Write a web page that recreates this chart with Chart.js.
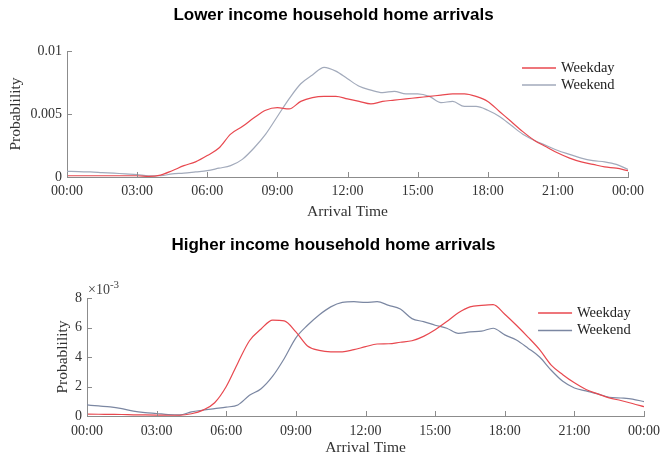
<!DOCTYPE html>
<html>
<head>
<meta charset="utf-8">
<script src="https://cdn.jsdelivr.net/npm/chart.js@4.4.0/dist/chart.umd.min.js"></script>
<style>
  body { margin: 0; background: #fff; }
  #wrap { position: relative; width: 667px; height: 457px; }
  .title {
    position: absolute; left: 0; width: 667px; text-align: center;
    font: bold 17px "Liberation Sans", Arial, sans-serif; color: #000; z-index: 2;
  }
  canvas { position: absolute; left: 0; }
</style>
</head>
<body>
<div id="wrap">
  <div class="title" style="top:5px">Lower income household home arrivals</div>
  <div class="title" style="top:235px">Higher income household home arrivals</div>
  <canvas id="lowChart" style="top:0" width="667" height="228"></canvas>
  <canvas id="highChart" style="top:228px" width="667" height="229"></canvas>
</div>
<script>
// half-hour steps, 00:00 to 24:00
const hours = [0, 0.5, 1, 1.5, 2, 2.5, 3, 3.5, 4, 4.5, 5, 5.5, 6, 6.5, 7, 7.5, 8, 8.5, 9, 9.5,
  10, 10.5, 11, 11.5, 12, 12.5, 13, 13.5, 14, 14.5, 15, 15.5, 16, 16.5, 17, 17.5, 18, 18.5, 19, 19.5,
  20, 20.5, 21, 21.5, 22, 22.5, 23, 23.5, 24];

const timeLabels = ['00:00', '03:00', '06:00', '09:00', '12:00', '15:00', '18:00', '21:00', '00:00'];
const seriesNames = ['Weekday', 'Weekend'];

// lower income
const lowWeekday = [0.0001, 0.0001, 0.0001, 0.0001, 0.0001, 0.0001, 0.0001, 0.00005, 0.00015, 0.0005,
  0.0009, 0.0012, 0.0017, 0.0023, 0.0034, 0.0040, 0.0047, 0.0053, 0.0055, 0.0054,
  0.0060, 0.0063, 0.0064, 0.0064, 0.0062, 0.0060, 0.0058, 0.0060, 0.0061, 0.0062,
  0.0063, 0.0064, 0.0065, 0.0066, 0.0066, 0.0064, 0.0060, 0.0052, 0.0044, 0.0036,
  0.0029, 0.0024, 0.0019, 0.0015, 0.0012, 0.0010, 0.0008, 0.0007, 0.0005];
const lowWeekend = [0.00045, 0.00042, 0.0004, 0.00035, 0.0003, 0.00025, 0.0002, 0.0001, 0.0001, 0.00025,
  0.0003, 0.0004, 0.0005, 0.0007, 0.0009, 0.0014, 0.0023, 0.0034, 0.0048, 0.0062,
  0.0074, 0.0081, 0.0087, 0.0084, 0.0078, 0.0072, 0.0069, 0.0067, 0.0068, 0.0066,
  0.0066, 0.0064, 0.0059, 0.0060, 0.0056, 0.0056, 0.0053, 0.0048, 0.0041, 0.0034,
  0.0029, 0.0025, 0.0021, 0.0018, 0.0015, 0.0013, 0.0012, 0.0010, 0.0006];
const lowYTicks = ['0', '0.005', '0.01'];

// higher income (x 10^-3)
const highWeekday = [0.13, 0.12, 0.11, 0.1, 0.08, 0.07, 0.06, 0.05, 0.05, 0.15,
  0.4, 0.9, 2.0, 3.6, 5.1, 5.9, 6.5, 6.45, 5.7, 4.75,
  4.45, 4.35, 4.35, 4.5, 4.7, 4.88, 4.9, 5.0, 5.1, 5.4,
  5.85, 6.4, 7.0, 7.4, 7.5, 7.55, 6.9, 6.15, 5.35, 4.5,
  3.45, 2.8, 2.25, 1.8, 1.5, 1.23, 1.05, 0.85, 0.63];
const highWeekend = [0.75, 0.68, 0.62, 0.5, 0.33, 0.23, 0.17, 0.1, 0.07, 0.28,
  0.4, 0.5, 0.6, 0.75, 1.4, 1.85, 2.7, 3.9, 5.3, 6.15,
  6.85, 7.4, 7.7, 7.75, 7.7, 7.75, 7.5, 7.25, 6.6, 6.4,
  6.15, 5.95, 5.6, 5.7, 5.75, 5.95, 5.5, 5.15, 4.6, 4.0,
  3.1, 2.35, 1.9, 1.7, 1.5, 1.27, 1.22, 1.15, 0.97];
const highYTicks = ['0', '2', '4', '6', '8'];

const serif = '"Liberation Serif", "Times New Roman", serif';
const axisColor = '#8c8c8c';
const redLine = '#e8484f';

const toPoints = vals => hours.map((h, i) => ({ x: h, y: vals[i] }));

// small inward tick marks, a legend inside the plot, and the exponent label
const extrasPlugin = {
  id: 'extras',
  afterDraw(chart, args, opts) {
    const ctx = chart.ctx;
    const { left, right, top, bottom } = chart.chartArea;
    const xs = chart.scales.x, ys = chart.scales.y;
    ctx.save();
    ctx.strokeStyle = axisColor;
    ctx.lineWidth = 1;
    ctx.beginPath();
    xs.ticks.forEach(t => {
      const px = Math.round(xs.getPixelForValue(t.value)) + 0.5;
      ctx.moveTo(px, bottom); ctx.lineTo(px, bottom - 5);
    });
    ys.ticks.forEach(t => {
      const py = Math.round(ys.getPixelForValue(t.value)) + 0.5;
      ctx.moveTo(left, py); ctx.lineTo(left + 5, py);
    });
    ctx.stroke();

    // legend
    ctx.font = '14.5px ' + serif;
    ctx.textBaseline = 'middle';
    ctx.textAlign = 'left';
    chart.data.datasets.forEach((ds, i) => {
      const y = top + opts.legendY + i * opts.legendGap;
      const x0 = right - opts.legendX;
      ctx.strokeStyle = ds.borderColor;
      ctx.lineWidth = 1.3;
      ctx.beginPath();
      ctx.moveTo(x0, y); ctx.lineTo(x0 + 34, y);
      ctx.stroke();
      ctx.fillStyle = '#222';
      ctx.fillText(ds.label, x0 + 39, y);
    });

    if (opts.exponent) {
      ctx.fillStyle = '#444';
      ctx.textBaseline = 'alphabetic';
      ctx.font = '14px ' + serif;
      ctx.fillText('\u00d710', left + 1, top - 4);
      const w = ctx.measureText('\u00d710').width;
      ctx.font = '11px ' + serif;
      ctx.fillText('-3', left + 1 + w, top - 10);
    }
    ctx.restore();
  }
};

function makeChart(id, weekday, weekend, yMax, yStep, yTicks, weekendColor, geo) {
  return new Chart(document.getElementById(id), {
    type: 'line',
    data: {
      datasets: [
        { label: seriesNames[0], data: toPoints(weekday), borderColor: redLine },
        { label: seriesNames[1], data: toPoints(weekend), borderColor: weekendColor }
      ]
    },
    options: {
      responsive: false,
      animation: false,
      layout: { padding: { left: geo.padLeft, right: geo.padRight, top: geo.padTop, bottom: 0 } },
      elements: {
        point: { radius: 0 },
        line: { borderWidth: 1.2, cubicInterpolationMode: 'monotone', fill: false }
      },
      plugins: {
        legend: { display: false },
        tooltip: { enabled: false },
        extras: geo.extras
      },
      scales: {
        x: {
          type: 'linear', min: 0, max: 24,
          afterFit: s => { s.height = geo.xHeight; },
          grid: { drawOnChartArea: false, drawTicks: false },
          border: { color: axisColor },
          ticks: {
            stepSize: 3, padding: geo.xTickPad, maxRotation: 0, color: '#333',
            font: { family: serif, size: 14 },
            callback: v => timeLabels[v / 3]
          },
          title: {
            display: true, text: 'Arrival Time', color: '#333',
            font: { family: serif, size: 15.5 }, padding: geo.xTitlePad
          }
        },
        y: {
          min: 0, max: yMax,
          afterFit: s => { s.width = geo.yWidth; },
          grid: { drawOnChartArea: false, drawTicks: false },
          border: { color: axisColor },
          ticks: {
            stepSize: yStep, padding: 5, color: '#333',
            font: { family: serif, size: 14 },
            callback: (v, i) => yTicks[i]
          },
          title: {
            display: true, text: 'Probablility', color: '#333',
            font: { family: serif, size: 15.5 }, padding: geo.yTitlePad
          }
        }
      }
    },
    plugins: [extrasPlugin]
  });
}

makeChart('lowChart', lowWeekday, lowWeekend, 0.01, 0.005, lowYTicks, '#a2aabb', {
  padLeft: 0, padRight: 39, padTop: 51, xHeight: 51, yWidth: 67, xTickPad: 6,
  xTitlePad: { top: 7, bottom: 7 }, yTitlePad: { top: 7, bottom: 7 },
  extras: { legendX: 106, legendY: 17, legendGap: 17, exponent: false }
});

makeChart('highChart', highWeekday, highWeekend, 8, 2, highYTicks, '#7b87a2', {
  padLeft: 44, padRight: 18, padTop: 70, xHeight: 41, yWidth: 43, xTickPad: 7,
  xTitlePad: { top: 0, bottom: 0 }, yTitlePad: { top: 10, bottom: 10 },
  extras: { legendX: 106, legendY: 15, legendGap: 17.5, exponent: true }
});
</script>
</body>
</html>
